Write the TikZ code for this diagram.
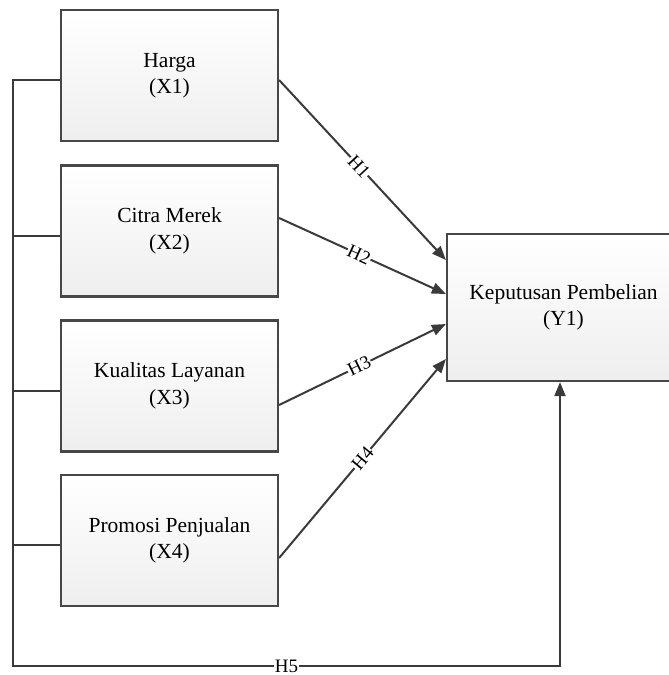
\documentclass[tikz,border=0pt]{standalone}
\usepackage{fontspec}
\setmainfont{Liberation Serif}
\usepackage{xcolor}
\definecolor{pathgray}{HTML}{3a3a3a}
\definecolor{boxgray}{HTML}{474747}
\usepackage{tikz}
\usetikzlibrary{arrows.meta, positioning, calc}

\begin{document}
\begin{tikzpicture}[x=1pt, y=-1pt,
  varbox/.style={rectangle, draw=boxgray, line width=2.2pt,
    top color=white, bottom color=gray!13, minimum width=217pt,
    minimum height=131pt, align=center,
    font=\fontsize{21.5}{26.5}\selectfont},
  link/.style={draw=pathgray, line width=2pt},
  hypo/.style={link, -{Triangle[length=14pt, width=11pt]}},
  hlabel/.style={sloped, fill=white, inner sep=0.8pt,
    font=\fontsize{19}{19}\selectfont}
]
\useasboundingbox (0,0) rectangle (669,675);
\clip (0,0) rectangle (669,675);

% Independent variables
\node[varbox] (x1) at (169.5, 75.5)  {Harga\\(X1)};
\node[varbox] (x2) at (169.5, 231)   {Citra Merek\\(X2)};
\node[varbox] (x3) at (169.5, 386)   {Kualitas Layanan\\(X3)};
\node[varbox] (x4) at (169.5, 540.5) {Promosi Penjualan\\(X4)};

% Dependent variable
\node[varbox, minimum width=233pt, minimum height=147pt] (y1) at (563.5, 307.5)
  {Keputusan Pembelian\\(Y1)};

% Partial hypotheses
\draw[hypo] ([yshift=-4.5pt]x1.east) -- node[hlabel, pos=0.48] {H1} ([yshift=47.5pt]y1.west);
\draw[hypo] ([yshift=13pt]x2.east)   -- node[hlabel, pos=0.48] {H2} ([yshift=13.5pt]y1.west);
\draw[hypo] ([yshift=-19pt]x3.east)  -- node[hlabel, pos=0.48] {H3} ([yshift=-16.5pt]y1.west);
\draw[hypo] ([yshift=-17.5pt]x4.east) -- node[hlabel, pos=0.5] {H4} ([yshift=-51.5pt]y1.west);

% Simultaneous hypothesis
\coordinate (bl) at (13, 666);
\coordinate (br) at (560, 666);
\draw[hypo] ([yshift=-4.5pt]x1.west) -| (bl) -- node[hlabel, pos=0.5] {H5} (br) -- (br |- y1.south);
\foreach \v in {x2, x3, x4}
  \draw[link] ([yshift=-4.5pt]\v.west) -- ([yshift=-4.5pt]\v.west -| bl);
\end{tikzpicture}
\end{document}
